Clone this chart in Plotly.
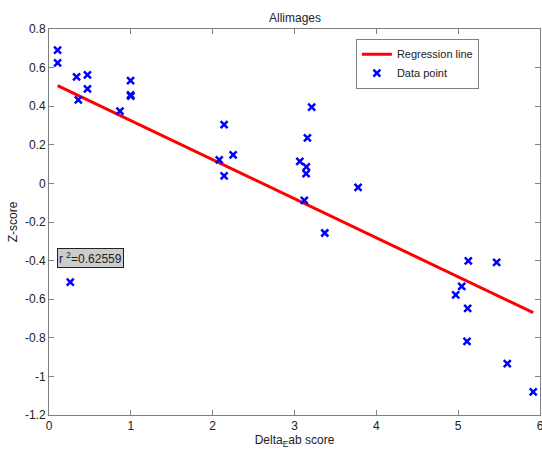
import plotly.graph_objects as go

# Data points
data_x = [0.105, 0.105, 0.337, 0.47, 0.47, 0.358, 0.867, 0.997, 0.997, 1.0,
          2.14, 3.21, 3.158, 2.25, 2.08, 2.14, 3.065, 3.145, 3.142, 3.777,
          3.12, 3.37, 0.26,
          5.124, 5.47, 5.043, 4.97, 5.116, 5.108, 5.6, 5.917]
data_y = [0.69, 0.625, 0.552, 0.562, 0.49, 0.433, 0.374, 0.533, 0.459, 0.452,
          0.305, 0.395, 0.236, 0.148, 0.122, 0.039, 0.114, 0.086, 0.051, -0.021,
          -0.088, -0.257, -0.511,
          -0.402, -0.409, -0.533, -0.577, -0.647, -0.818, -0.934, -1.08]

# Regression line endpoints
reg_x = [0.105, 5.917]
reg_y = [0.507, -0.67]

x_ticks = [0, 1, 2, 3, 4, 5, 6]
y_ticks = [0.8, 0.6, 0.4, 0.2, 0, -0.2, -0.4, -0.6, -0.8, -1, -1.2]
y_tick_labels = ["0.8", "0.6", "0.4", "0.2", "0", "-0.2", "-0.4", "-0.6", "-0.8", "-1", "-1.2"]

FONT = "Liberation Sans, Arial, sans-serif"

fig = go.Figure()
fig.add_trace(go.Scatter(x=reg_x, y=reg_y, mode="lines", name="Regression line",
                         line=dict(color="#ff0000", width=3)))
fig.add_trace(go.Scatter(x=data_x, y=data_y, mode="markers", name="Data point",
                         marker=dict(symbol="x-thin", size=7, color="#0000ff",
                                     line=dict(color="#0000ff", width=2.5))))

axis_common = dict(showgrid=False, zeroline=False, showline=True, linecolor="#808080",
                   linewidth=1, mirror="ticks", ticks="inside", ticklen=5,
                   tickcolor="#808080", ticklabeloverflow="allow", automargin=False,
                   tickfont=dict(family=FONT, size=12, color="#222"))

fig.update_layout(
    width=542, height=449,
    margin=dict(l=49, r=2, t=29, b=34),
    plot_bgcolor="white", paper_bgcolor="white",
    font=dict(family=FONT, size=12, color="#222"),
    showlegend=True,
    legend=dict(x=0.625, y=0.975, xanchor="left", yanchor="top",
                bgcolor="white", bordercolor="#808080", borderwidth=1,
                font=dict(family=FONT, size=11, color="#222"),
                tracegroupgap=0, itemwidth=30),
    xaxis=dict(range=[0, 6], tickvals=x_ticks, **axis_common,
               title=dict(text="Delta<sub>E</sub>ab score", standoff=2,
                          font=dict(family=FONT, size=12, color="#222"))),
    yaxis=dict(range=[-1.2, 0.8], tickvals=y_ticks, ticktext=y_tick_labels, **axis_common,
               title=dict(text="Z-score", standoff=4,
                          font=dict(family=FONT, size=12, color="#222"))),
)

fig.add_annotation(text="Allimages", xref="paper", yref="paper", x=0.5, y=1.0,
                   xanchor="center", yanchor="bottom", yshift=2, showarrow=False,
                   font=dict(family=FONT, size=12, color="#222"))

fig.add_annotation(text="r <sup>2</sup>=0.62559", xref="paper", yref="paper",
                   x=0.017, y=0.406, xanchor="left", yanchor="middle", showarrow=False,
                   bgcolor="#cccccc", bordercolor="#222", borderwidth=1, borderpad=1,
                   font=dict(family=FONT, size=12, color="#222"))

fig.write_html("out.html")
